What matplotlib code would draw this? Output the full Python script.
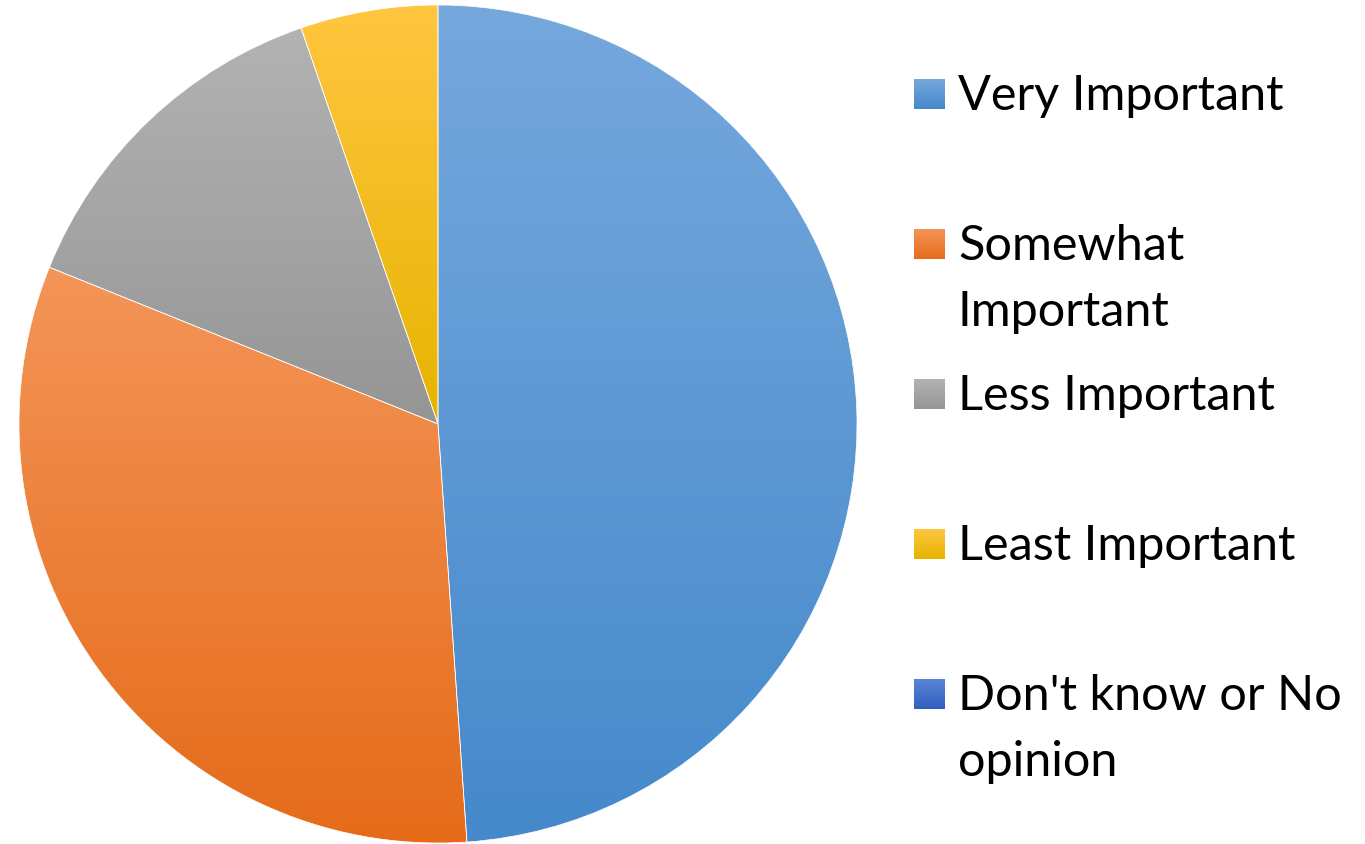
import numpy as np
import matplotlib
matplotlib.use("Agg")
import matplotlib.pyplot as plt
from matplotlib.colors import LinearSegmentedColormap

# Datos del gráfico (porcentajes)
categorias = ["Very Important", "Somewhat\nImportant", "Less Important",
              "Least Important", "Don't know or No\nopinion"]
valores = [48.9, 32.2, 13.6, 5.3, 0.0]

# Degradados (color arriba, color abajo)
colores_arriba = ["#76a8dd", "#f49559", "#b3b3b3", "#ffc640", "#5b86d6"]
colores_abajo = ["#4589cb", "#e56b19", "#959595", "#e6b400", "#2f5fbe"]

plt.rcParams['font.family'] = ['Lato', 'DejaVu Sans']

fig = plt.figure(figsize=(13.65, 8.44), dpi=100)
ax = fig.add_axes([0, 0, 1, 1])

wedges, _ = ax.pie(valores, startangle=90, counterclock=False,
                   center=(438, 420), radius=419,
                   wedgeprops=dict(edgecolor="white", linewidth=0.5))

ax.set_aspect("equal")
ax.axis("off")

grad = np.linspace(0, 1, 256).reshape(-1, 1)

# Relleno en degradado para cada porción
for w, c0, c1 in zip(wedges, colores_arriba, colores_abajo):
    if w.theta2 - w.theta1 <= 0:
        continue
    bb = w.get_path().get_extents()
    cmap = LinearSegmentedColormap.from_list("g", [c0, c1])
    im = ax.imshow(grad, cmap=cmap, aspect="auto", origin="upper",
                   extent=(bb.x0, bb.x1, bb.y0, bb.y1), zorder=1)
    im.set_clip_path(w)
    w.set_facecolor("none")
    w.set_zorder(2)

# Leyenda manual
filas_y = [750, 600, 450, 300, 150]
for cat, c0, c1, y in zip(categorias, colores_arriba, colores_abajo, filas_y):
    cmap = LinearSegmentedColormap.from_list("g", [c0, c1])
    ax.imshow(grad, cmap=cmap, aspect="auto", origin="upper",
              extent=(914, 945, y - 15, y + 15), zorder=3)
    ax.text(958, y + 20, cat, fontsize=35, va="top", ha="left",
            linespacing=1.6, color="black")

ax.set_xlim(0, 1365)
ax.set_ylim(0, 844)

plt.savefig("out.png", dpi=100)
plt.close()
